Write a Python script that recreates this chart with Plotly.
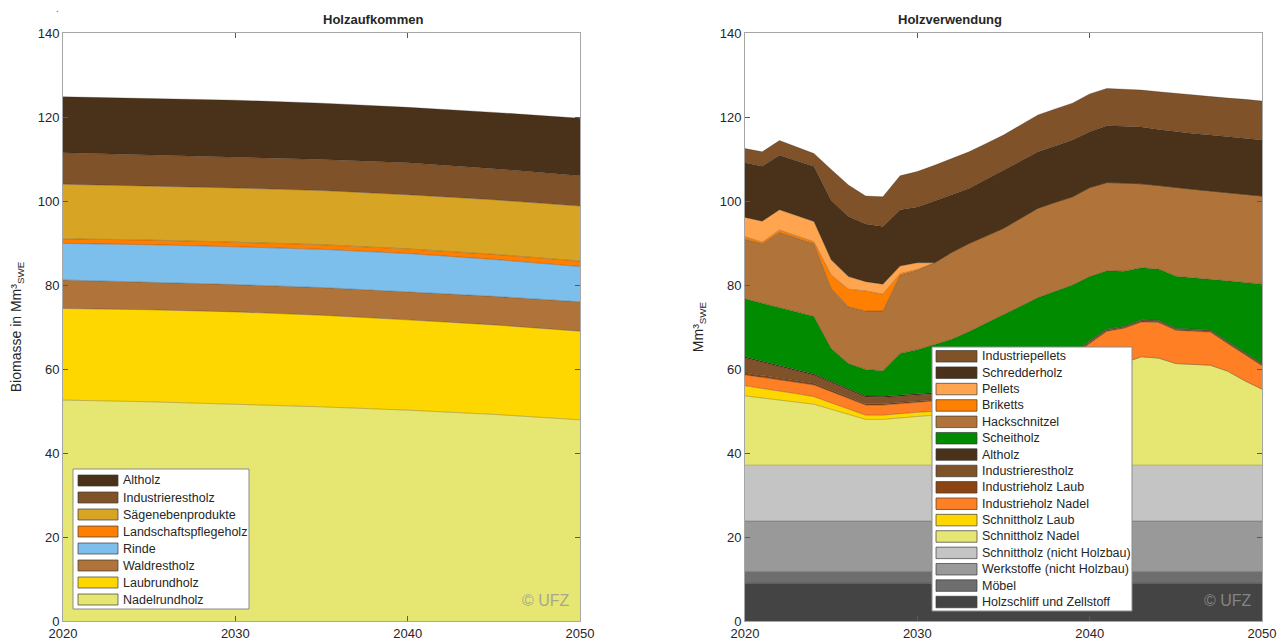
import plotly.graph_objects as go

# ---------------- Holzaufkommen (left panel) ----------------
years_l = [2020, 2025, 2030, 2035, 2040, 2045, 2050]

nadelrundholz = [52.6, 52.2, 51.6, 51.0, 50.2, 49.2, 47.9]
laubrundholz = [21.8, 21.9, 22.0, 21.8, 21.5, 21.3, 21.1]
waldrestholz = [6.8, 6.6, 6.5, 6.6, 6.7, 6.8, 7.0]
rinde = [8.7, 8.9, 9.0, 9.1, 9.1, 8.8, 8.4]
landschaftspflegeholz = [1.1, 1.1, 1.1, 1.1, 1.1, 1.2, 1.3]
saegenebenprodukte = [13.0, 12.9, 12.9, 12.9, 12.9, 13.0, 13.1]
industrierestholz_l = [7.5, 7.4, 7.3, 7.4, 7.6, 7.4, 7.2]
altholz_l = [13.3, 13.4, 13.6, 13.4, 13.2, 13.4, 13.7]

# ---------------- Holzverwendung (right panel) ----------------
years_r = [2020, 2021, 2022, 2023, 2024, 2025, 2026, 2027, 2028, 2029, 2030,
           2031, 2032, 2033, 2034, 2035, 2036, 2037, 2038, 2039, 2040,
           2041, 2042, 2043, 2044, 2045, 2046, 2047, 2048, 2049, 2050]

holzschliff = [9.0, 9.0, 9.0, 9.0, 9.0, 9.0, 9.0, 9.0, 9.0, 9.0, 9.0,
               9.0, 9.0, 9.0, 9.0, 9.0, 9.0, 9.0, 9.0, 9.0, 9.0,
               9.0, 9.0, 9.0, 9.0, 9.0, 9.0, 9.0, 9.0, 9.0, 9.0]
moebel = [2.8, 2.8, 2.8, 2.8, 2.8, 2.8, 2.8, 2.8, 2.8, 2.8, 2.8,
          2.8, 2.8, 2.8, 2.8, 2.8, 2.8, 2.8, 2.8, 2.8, 2.8,
          2.8, 2.8, 2.8, 2.8, 2.8, 2.8, 2.8, 2.8, 2.8, 2.8]
werkstoffe = [12.0, 12.0, 12.0, 12.0, 12.0, 12.0, 12.0, 12.0, 12.0, 12.0, 12.0,
              12.0, 12.0, 12.0, 12.0, 12.0, 12.0, 12.0, 12.0, 12.0, 12.0,
              12.0, 12.0, 12.0, 12.0, 12.0, 12.0, 12.0, 12.0, 12.0, 12.0]
schnittholz_nhb = [13.3, 13.3, 13.3, 13.3, 13.3, 13.3, 13.3, 13.3, 13.3, 13.3, 13.3,
                   13.3, 13.3, 13.3, 13.3, 13.3, 13.3, 13.3, 13.3, 13.3, 13.3,
                   13.3, 13.3, 13.3, 13.3, 13.3, 13.3, 13.3, 13.3, 13.3, 13.3]
schnittholz_nadel = [16.5, 16.0, 15.5, 15.0, 14.5, 13.3, 12.1, 10.9, 10.9, 11.3, 11.6,
                     11.9, 12.2, 12.6, 13.1, 13.7, 14.5, 15.7, 17.2, 18.9, 20.9,
                     23.4, 24.4, 25.8, 25.5, 24.2, 24.0, 23.8, 22.4, 20.1, 18.1]
schnittholz_laub = [2.4, 2.3, 2.1, 2.0, 1.8, 1.5, 1.2, 1.0, 1.0, 1.0, 1.0,
                    0.9, 0.8, 0.7, 0.6, 0.5, 0.4, 0.3, 0.2, 0.1, 0.0,
                    0.0, 0.0, 0.0, 0.0, 0.0, 0.0, 0.0, 0.0, 0.0, 0.0]
industrieholz_nadel = [2.6, 2.6, 2.8, 2.7, 2.8, 2.7, 2.6, 2.4, 2.4, 2.3, 2.3,
                       2.5, 2.8, 3.1, 3.4, 3.8, 4.5, 5.0, 5.8, 6.6, 8.1,
                       8.5, 8.2, 8.3, 8.5, 7.9, 7.9, 7.9, 6.6, 6.3, 5.6]
industrieholz_laub = [0.5, 0.5, 0.4, 0.4, 0.4, 0.4, 0.3, 0.3, 0.3, 0.3, 0.3,
                      0.3, 0.3, 0.3, 0.3, 0.3, 0.3, 0.3, 0.2, 0.2, 0.2,
                      0.2, 0.2, 0.2, 0.2, 0.2, 0.2, 0.2, 0.2, 0.2, 0.2]
industrierestholz_r = [3.5, 3.1, 2.7, 2.3, 1.9, 1.8, 1.7, 1.6, 1.5, 1.5, 1.4,
                       1.4, 1.3, 1.2, 1.1, 1.0, 0.8, 0.7, 0.5, 0.4, 0.3,
                       0.2, 0.2, 0.2, 0.2, 0.2, 0.2, 0.2, 0.2, 0.2, 0.2]
altholz_r = [0.3, 0.3, 0.3, 0.3, 0.3, 0.3, 0.3, 0.3, 0.3, 0.3, 0.3,
             0.3, 0.3, 0.3, 0.3, 0.3, 0.2, 0.2, 0.2, 0.2, 0.2,
             0.1, 0.1, 0.1, 0.1, 0.1, 0.1, 0.1, 0.1, 0.1, 0.1]
scheitholz = [13.8, 13.8, 13.7, 13.8, 13.7, 7.8, 6.0, 6.3, 6.1, 9.9, 10.6,
              11.5, 12.3, 13.6, 15.0, 16.2, 17.1, 17.7, 17.3, 16.5, 15.2,
              13.9, 13.1, 12.4, 12.2, 12.4, 12.2, 12.1, 14.4, 16.6, 18.9]
hackschnitzel = [14.2, 14.1, 17.9, 17.6, 17.3, 14.3, 13.5, 13.9, 14.2, 18.6, 18.9,
                 19.4, 20.7, 21.0, 20.8, 20.6, 21.0, 21.3, 21.2, 21.0, 21.2,
                 21.0, 21.0, 20.0, 19.9, 21.1, 21.1, 21.0, 21.0, 21.0, 21.0]
briketts = [0.6, 0.4, 0.6, 0.5, 0.5, 3.2, 4.2, 4.8, 4.0, 0.4, 0.2,
            0.0, 0.0, 0.0, 0.0, 0.0, 0.0, 0.0, 0.0, 0.0, 0.0,
            0.0, 0.0, 0.0, 0.0, 0.0, 0.0, 0.0, 0.0, 0.0, 0.0]
pellets = [4.6, 5.0, 4.8, 4.8, 4.8, 3.6, 3.0, 2.2, 2.4, 1.8, 1.6,
           0.0, 0.0, 0.0, 0.0, 0.0, 0.0, 0.0, 0.0, 0.0, 0.0,
           0.0, 0.0, 0.0, 0.0, 0.0, 0.0, 0.0, 0.0, 0.0, 0.0]
schredderholz = [13.0, 13.1, 13.0, 13.0, 13.1, 14.2, 14.3, 13.7, 13.7, 13.4, 13.3,
                 14.7, 13.7, 13.1, 13.5, 13.9, 13.6, 13.4, 13.4, 13.5, 13.3,
                 13.5, 13.5, 13.5, 13.3, 13.3, 13.3, 13.3, 13.3, 13.3, 13.3]
industriepellets = [3.4, 3.4, 3.5, 3.4, 3.1, 7.3, 7.5, 6.7, 7.1, 8.1, 8.4,
                    8.5, 8.6, 8.7, 8.5, 8.3, 8.6, 8.8, 8.8, 8.8, 9.0,
                    8.9, 8.8, 8.8, 9.0, 9.1, 9.1, 9.2, 9.2, 9.3, 9.3]

# Stacking order is bottom to top
left_series = [
    ("Nadelrundholz", nadelrundholz, "#E6E673"),
    ("Laubrundholz", laubrundholz, "#FFD700"),
    ("Waldrestholz", waldrestholz, "#B07339"),
    ("Rinde", rinde, "#7DBFEC"),
    ("Landschaftspflegeholz", landschaftspflegeholz, "#FF7F00"),
    ("Sägenebenprodukte", saegenebenprodukte, "#D8A423"),
    ("Industrierestholz", industrierestholz_l, "#7F5229"),
    ("Altholz", altholz_l, "#4A3119"),
]

right_series = [
    ("Holzschliff und Zellstoff", holzschliff, "#444444"),
    ("Möbel", moebel, "#6E6E6E"),
    ("Werkstoffe (nicht Holzbau)", werkstoffe, "#999999"),
    ("Schnittholz (nicht Holzbau)", schnittholz_nhb, "#C4C4C4"),
    ("Schnittholz Nadel", schnittholz_nadel, "#E6E673"),
    ("Schnittholz Laub", schnittholz_laub, "#FFD700"),
    ("Industrieholz Nadel", industrieholz_nadel, "#FF7F24"),
    ("Industrieholz Laub", industrieholz_laub, "#8B4513"),
    ("Industrierestholz", industrierestholz_r, "#7F5229"),
    ("Altholz", altholz_r, "#4A3119"),
    ("Scheitholz", scheitholz, "#008B00"),
    ("Hackschnitzel", hackschnitzel, "#B07339"),
    ("Briketts", briketts, "#FF7F00"),
    ("Pellets", pellets, "#FFA54F"),
    ("Schredderholz", schredderholz, "#4A3119"),
    ("Industriepellets", industriepellets, "#7F5229"),
]

EDGE = dict(width=0.6, color="rgba(40,30,20,0.45)")
FONT = "Liberation Sans, Arial, sans-serif"
TXT = "#262626"
W, H = 1283, 644


def fx(p):
    return p / W


def fy(p):
    return 1 - p / H


fig = go.Figure()

for name, vals, col in left_series:
    fig.add_trace(go.Scatter(
        x=years_l, y=vals, name=name, mode="lines", stackgroup="left",
        fillcolor=col, line=EDGE, xaxis="x", yaxis="y", showlegend=False,
    ))

for name, vals, col in right_series:
    fig.add_trace(go.Scatter(
        x=years_r, y=vals, name=name, mode="lines", stackgroup="right",
        fillcolor=col, line=EDGE, xaxis="x2", yaxis="y2", showlegend=False,
    ))

axis_common = dict(
    showgrid=False, zeroline=False, showline=True, linecolor="#A6A6A6", linewidth=1,
    mirror="ticks", ticks="inside", ticklen=5, tickcolor="#595959", automargin=False,
    tickfont=dict(family=FONT, size=13, color=TXT),
)

shapes = []
annotations = []


def add_legend(series, box, first_y, step, sw_x0, sw_x1, sw_h, text_x):
    """Boxed legend listing the stack from top to bottom."""
    x0, y0, x1, y1 = box
    shapes.append(dict(type="rect", xref="paper", yref="paper",
                       x0=fx(x0), x1=fx(x1), y0=fy(y1), y1=fy(y0),
                       fillcolor="white", line=dict(color="#8C8C8C", width=1),
                       layer="above"))
    for i, (name, _vals, col) in enumerate(reversed(series)):
        cy = first_y + i * step
        shapes.append(dict(type="rect", xref="paper", yref="paper",
                           x0=fx(sw_x0), x1=fx(sw_x1),
                           y0=fy(cy + sw_h / 2), y1=fy(cy - sw_h / 2),
                           fillcolor=col, line=dict(color="rgba(60,60,60,0.7)", width=1),
                           layer="above"))
        annotations.append(dict(text=name, x=fx(text_x), y=fy(cy), xref="paper", yref="paper",
                                xanchor="left", yanchor="middle", showarrow=False,
                                font=dict(family=FONT, size=12.5, color=TXT)))


add_legend(left_series, (73, 469, 249, 609), 480.5, 17.0, 78, 118, 11, 121)
add_legend(right_series, (932, 347, 1132, 611), 356.3, 16.38, 936, 977, 11.5, 980)

annotations += [
    dict(text="<b>Holzaufkommen</b>", x=(fx(63) + fx(580)) / 2, y=fy(20),
         xref="paper", yref="paper", showarrow=False, yanchor="middle",
         font=dict(family=FONT, size=13, color=TXT)),
    dict(text="<b>Holzverwendung</b>", x=(fx(745) + fx(1262)) / 2, y=fy(20),
         xref="paper", yref="paper", showarrow=False, yanchor="middle",
         font=dict(family=FONT, size=13, color=TXT)),
    dict(text="© UFZ", x=fx(572), y=fy(600), xref="paper", yref="paper",
         xanchor="right", yanchor="middle", showarrow=False,
         font=dict(family=FONT, size=16, color="rgba(150,150,150,0.8)")),
    dict(text="© UFZ", x=fx(1254), y=fy(600), xref="paper", yref="paper",
         xanchor="right", yanchor="middle", showarrow=False,
         font=dict(family=FONT, size=16, color="rgba(150,150,150,0.8)")),
    dict(text=".", x=fx(57), y=fy(8), xref="paper", yref="paper",
         xanchor="center", yanchor="middle", showarrow=False,
         font=dict(family=FONT, size=10, color="#555555")),
]

fig.update_layout(
    width=W, height=H,
    margin=dict(l=0, r=0, t=0, b=0, autoexpand=False),
    paper_bgcolor="white", plot_bgcolor="white",
    font=dict(family=FONT, color=TXT),
    showlegend=False,
    xaxis=dict(domain=[fx(63), fx(580)], range=[2020, 2050],
               tickvals=[2020, 2030, 2040, 2050], anchor="y", **axis_common),
    yaxis=dict(domain=[fy(621), fy(33)], range=[0, 140], dtick=20, anchor="x",
               title=dict(text="Biomasse in Mm³<sub>SWE</sub>", standoff=12,
                          font=dict(family=FONT, size=14, color=TXT)),
               **axis_common),
    xaxis2=dict(domain=[fx(745), fx(1262)], range=[2020, 2050],
                tickvals=[2020, 2030, 2040, 2050], anchor="y2", **axis_common),
    yaxis2=dict(domain=[fy(621), fy(33)], range=[0, 140], dtick=20, anchor="x2",
                title=dict(text="Mm³<sub>SWE</sub>", standoff=12,
                           font=dict(family=FONT, size=14, color=TXT)),
                **axis_common),
    shapes=shapes,
    annotations=annotations,
)

fig.write_html("out.html")
